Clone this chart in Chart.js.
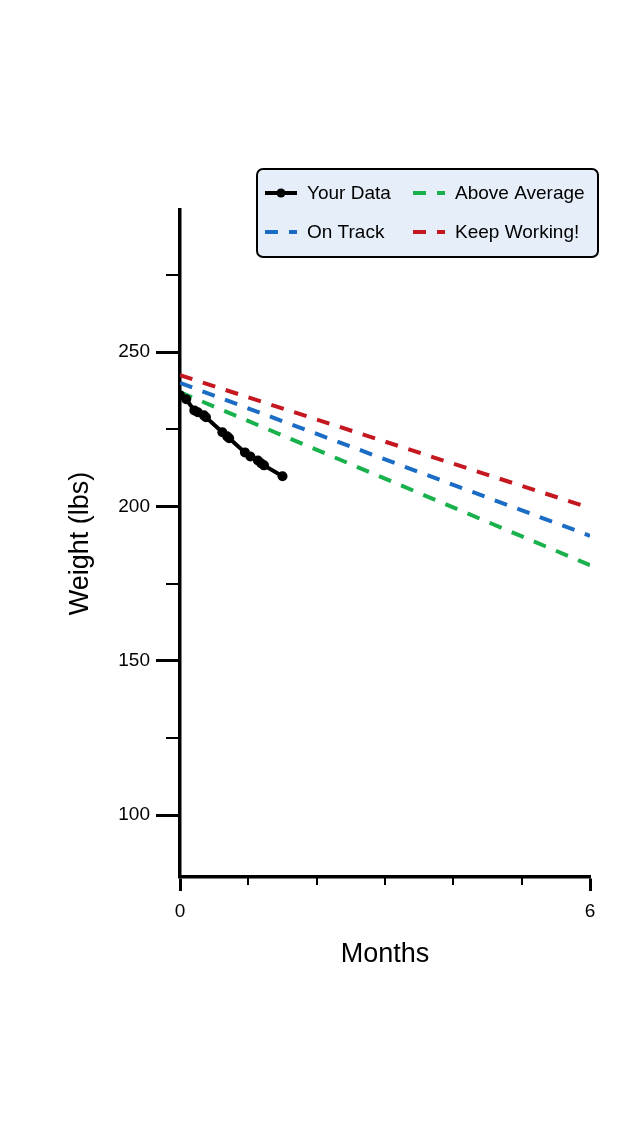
<!DOCTYPE html>
<html>
<head>
<meta charset="utf-8">
<script src="https://cdn.jsdelivr.net/npm/chart.js@4.4.0/dist/chart.umd.min.js"></script>
<style>
  html, body { margin: 0; padding: 0; background: #fff; }
  #wrap { width: 640px; height: 1136px; }
</style>
</head>
<body>
<div id="wrap"><canvas id="chart" width="640" height="1136"></canvas></div>
<script>
// weight log (months since start, lbs)
const yourMonths = [0.0, 0.09, 0.21, 0.26, 0.35, 0.38, 0.62, 0.69, 0.72, 0.95, 1.03, 1.14, 1.19, 1.23, 1.50];
const yourWeights = [236.0, 234.7, 231.1, 230.5, 229.5, 228.9, 224.0, 222.7, 222.1, 217.5, 216.2, 214.9, 213.9, 213.3, 209.8];

// goal lines, start and end of the 6 month window
const goalMonths = [0, 6];
const aboveAverage = [237.0, 181.0];
const onTrack = [240.0, 190.5];
const keepWorking = [242.5, 199.5];

const yTicks = [100, 125, 150, 175, 200, 225, 250, 275];
const yLabels = [100, 150, 200, 250];
const xTicks = [0, 1, 2, 3, 4, 5, 6];
const xLabels = [0, 6];

const toPoints = (xs, ys) => xs.map((x, i) => ({ x: x, y: ys[i] }));

Chart.defaults.font.family = '"Liberation Sans", Arial, Helvetica, sans-serif';
Chart.defaults.color = "#000";

// short unlabeled ticks
const minorTicks = {
  id: "minorTicks",
  afterDraw(chart) {
    const { ctx, scales } = chart;
    const x = scales.x;
    const y = scales.y;
    ctx.save();
    ctx.strokeStyle = "#000";
    ctx.lineWidth = 2;
    yTicks.filter((v) => !yLabels.includes(v)).forEach((v) => {
      const py = Math.round(y.getPixelForValue(v));
      ctx.beginPath();
      ctx.moveTo(y.right - 14, py);
      ctx.lineTo(y.right, py);
      ctx.stroke();
    });
    xTicks.filter((v) => !xLabels.includes(v)).forEach((v) => {
      const px = Math.round(x.getPixelForValue(v));
      ctx.beginPath();
      ctx.moveTo(px, x.top);
      ctx.lineTo(px, x.top + 8);
      ctx.stroke();
    });
    ctx.restore();
  },
};

// boxed two-column legend
const boxLegend = {
  id: "boxLegend",
  afterDraw(chart) {
    const { ctx } = chart;
    const box = { left: 257, top: 169, right: 598, bottom: 257 };
    const cols = [265, 413];
    const rows = [193, 232];
    ctx.save();
    ctx.beginPath();
    ctx.roundRect(box.left, box.top, box.right - box.left, box.bottom - box.top, 6);
    ctx.fillStyle = "#e6eefa";
    ctx.fill();
    ctx.lineWidth = 2;
    ctx.strokeStyle = "#000";
    ctx.stroke();

    chart.data.datasets.forEach((ds, i) => {
      const cx = cols[i % 2];
      const cy = rows[Math.floor(i / 2)];
      ctx.beginPath();
      ctx.setLineDash(ds.borderDash || []);
      ctx.lineWidth = ds.borderWidth;
      ctx.strokeStyle = ds.borderColor;
      ctx.moveTo(cx, cy);
      ctx.lineTo(cx + 32, cy);
      ctx.stroke();
      ctx.setLineDash([]);
      if (ds.pointRadius > 0) {
        ctx.beginPath();
        ctx.arc(cx + 16, cy, ds.pointRadius - 0.5, 0, Math.PI * 2);
        ctx.fillStyle = ds.pointBackgroundColor;
        ctx.fill();
      }
      ctx.fillStyle = "#000";
      ctx.font = '19px "Liberation Sans", Arial, sans-serif';
      ctx.textBaseline = "middle";
      ctx.textAlign = "left";
      ctx.fillText(ds.label, cx + 42, cy + 1);
    });
    ctx.restore();
  },
};

const dashed = (label, color, values) => ({
  label: label,
  data: toPoints(goalMonths, values),
  borderColor: color,
  borderWidth: 4,
  borderDash: [13, 11],
  borderCapStyle: "butt",
  pointRadius: 0,
  fill: false,
});

new Chart(document.getElementById("chart"), {
  type: "line",
  data: {
    datasets: [
      {
        label: "Your Data",
        data: toPoints(yourMonths, yourWeights),
        borderColor: "#000",
        borderWidth: 4,
        pointRadius: 5,
        pointBackgroundColor: "#000",
        pointBorderWidth: 0,
        tension: 0,
        fill: false,
      },
      dashed("Above Average", "#19b14c", aboveAverage),
      dashed("On Track", "#1a6cc4", onTrack),
      dashed("Keep Working!", "#c4171f", keepWorking),
    ],
  },
  options: {
    responsive: false,
    animation: false,
    layout: { padding: { left: 0, top: 210, right: 50, bottom: 0 } },
    plugins: { legend: { display: false }, tooltip: { enabled: false } },
    scales: {
      x: {
        type: "linear",
        min: 0,
        max: 6,
        afterBuildTicks: (scale) => {
          scale.ticks = xTicks.map((v) => ({ value: v }));
        },
        afterFit: (scale) => {
          scale.height = 259;
        },
        ticks: {
          autoSkip: false,
          maxRotation: 0,
          padding: 9,
          font: { size: 19 },
          callback: (v) => (xLabels.includes(v) ? String(v) : ""),
        },
        grid: {
          drawOnChartArea: false,
          drawTicks: true,
          tickLength: 14,
          tickWidth: 3,
          tickColor: (c) => (c.tick && xLabels.includes(c.tick.value) ? "#000" : "rgba(0,0,0,0)"),
        },
        border: { display: true, color: "#000", width: 3.5 },
        title: {
          display: true,
          text: "Months",
          font: { size: 27 },
          padding: { top: 0, bottom: 165 },
        },
      },
      y: {
        type: "linear",
        min: 80,
        max: 296,
        afterBuildTicks: (scale) => {
          scale.ticks = yTicks.map((v) => ({ value: v }));
        },
        afterFit: (scale) => {
          scale.width = 180;
        },
        ticks: {
          autoSkip: false,
          padding: 6,
          font: { size: 19 },
          callback: (v) => (yLabels.includes(v) ? String(v) : ""),
        },
        grid: {
          drawOnChartArea: false,
          drawTicks: true,
          tickLength: 24,
          tickWidth: 3,
          tickColor: (c) => (c.tick && yLabels.includes(c.tick.value) ? "#000" : "rgba(0,0,0,0)"),
        },
        border: { display: true, color: "#000", width: 3.5 },
        title: {
          display: true,
          text: "Weight (lbs)",
          font: { size: 27 },
          padding: { top: 64, bottom: 0 },
        },
      },
    },
  },
  plugins: [minorTicks, boxLegend],
});
</script>
</body>
</html>
